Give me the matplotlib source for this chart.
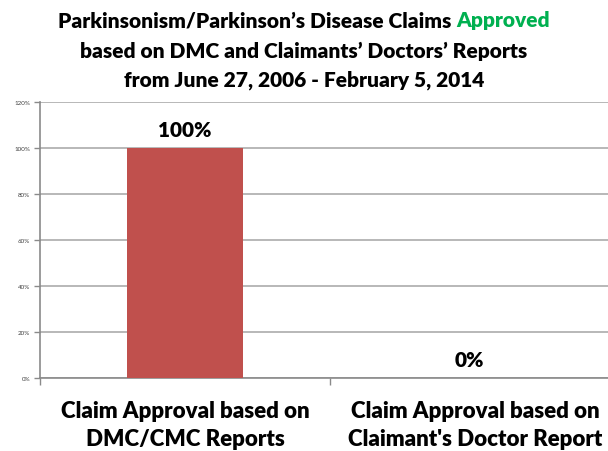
import numpy as np
import matplotlib
matplotlib.use('Agg')
import matplotlib.pyplot as plt

categories = ['Claim Approval based on\nDMC/CMC Reports',
              "Claim Approval based on\nClaimant's Doctor Report"]
approval_pct = [100, 0]
y_ticks = [0, 20, 40, 60, 80, 100, 120]

plt.rcParams['font.family'] = ['Lato', 'DejaVu Sans']
BOLD = 'heavy'

fig = plt.figure(figsize=(6.08, 4.52), dpi=100)
W, H = 608, 452
# axes runs off the right side of the picture, as in the reference
ax = fig.add_axes([40 / W, 1 - 379 / H, 580 / W, 276 / H])

x = np.arange(len(categories))
ax.bar(x, approval_pct, width=0.4, color='#C0504D', zorder=3)
ax.set_xlim(-0.5, 1.5)
ax.set_ylim(0, 120)

ax.set_yticks(y_ticks)
ax.set_yticklabels([f'{v}%' for v in y_ticks], fontsize=4.5, color='#404040')
ax.yaxis.grid(True, color='#ababab', linewidth=1.2, zorder=0)
ax.tick_params(axis='y', length=4, width=1, color='#8a8a8a', pad=3)

ax.set_xticks([-0.5, 0.5])
ax.set_xticklabels([])
ax.tick_params(axis='x', length=5, width=1, color='#8a8a8a')
for i, lab in enumerate(categories):
    ax.text(x[i], -9.5, lab, ha='center', va='top', fontsize=16,
            fontweight=BOLD, linespacing=1.4, color='#000000')

for s in ['top', 'right']:
    ax.spines[s].set_visible(False)
for s in ['left', 'bottom']:
    ax.spines[s].set_color('#8a8a8a')
    ax.spines[s].set_linewidth(1.2)

# data labels
ax.text(x[0], approval_pct[0] + 4, f'{approval_pct[0]}%', ha='center',
        va='bottom', fontsize=15, fontweight=BOLD)
ax.text(x[1] - 0.02, approval_pct[1] + 4, f'{approval_pct[1]}%', ha='center',
        va='bottom', fontsize=15, fontweight=BOLD)

# title, with "Approved" in green
fig.canvas.draw()
r = fig.canvas.get_renderer()
cx = 304 / W
fs = 15
p1 = fig.text(0, 1 - 21 / H, 'Parkinsonism/Parkinson\u2019s Disease Claims ',
              fontsize=fs, fontweight=BOLD, va='center')
p2 = fig.text(0, 1 - 21 / H, 'Approved', fontsize=fs, fontweight=BOLD,
              va='center', color='#00B050')
w1 = p1.get_window_extent(r).width / W
w2 = p2.get_window_extent(r).width / W
x0 = cx - (w1 + w2) / 2
p1.set_x(x0)
p2.set_x(x0 + w1)
fig.text(cx, 1 - 51 / H, 'based on DMC and Claimants\u2019 Doctors\u2019 Reports',
         fontsize=fs, fontweight=BOLD, ha='center', va='center')
fig.text(cx, 1 - 80 / H, 'from June 27, 2006 - February 5, 2014',
         fontsize=fs, fontweight=BOLD, ha='center', va='center')

fig.savefig('out.png', dpi=100)
